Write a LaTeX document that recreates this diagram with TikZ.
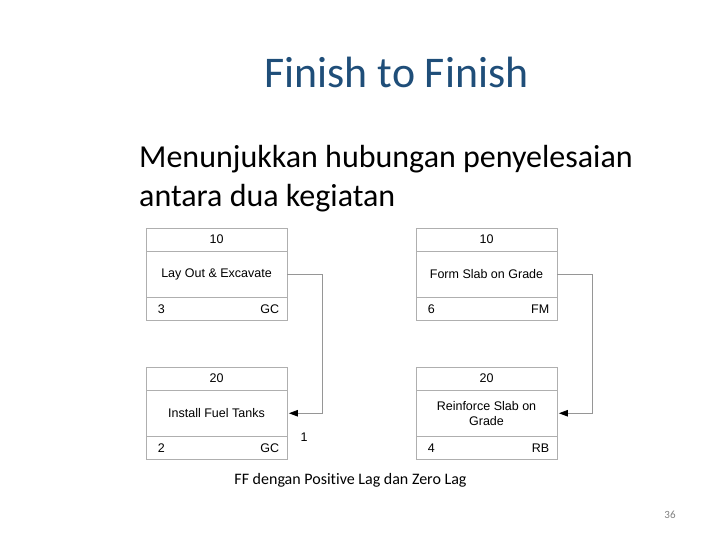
\documentclass[tikz,border=0pt]{standalone}
\usepackage{fontspec}
\setmainfont{Carlito}[Ligatures=CommonOff]
\newfontfamily\arialf{Liberation Sans}
\usetikzlibrary{arrows.meta}
\definecolor{titleblue}{RGB}{31,78,121}
\definecolor{boxgray}{RGB}{175,175,175}
\definecolor{linegray}{RGB}{150,150,150}
\begin{document}
\begin{tikzpicture}[x=1pt,y=-1pt,
  cell/.style={draw=boxgray, line width=0.8pt, minimum width=141pt, inner sep=0pt,
    font=\arialf\fontsize{12.5}{15}\selectfont, align=center},
  rowtop/.style={cell, minimum height=23pt},
  rowmid/.style={cell, minimum height=46.5pt},
  rowbot/.style={cell, minimum height=23pt},
  celltext/.style={inner sep=0pt, font=\arialf\fontsize{12.5}{15}\selectfont},
  conn/.style={draw=linegray, line width=0.8pt, shorten >=1.5pt,
    -{Triangle[length=9pt,width=6.5pt,color=black,fill=black]}}]
\useasboundingbox (0,0) rectangle (720,540);

% title and text
\node[text=titleblue, font=\fontsize{43.8}{52}\selectfont, inner sep=0pt] (title) at (396.5,72) {Finish to Finish};
\node[anchor=west, align=left, font=\fontsize{32}{39.5}\selectfont, inner sep=0pt] (body) at (139,178.5)
  {Menunjukkan hubungan penyelesaian\\antara dua kegiatan};

% box 1
\node[rowtop] (b1t) at (216.5,239.5) {10};
\node[rowmid] (b1m) at (216.5,274.25) {Lay Out \& Excavate};
\node[rowbot] (b1b) at (216.5,309) {};
\node[celltext, anchor=west] (b1l) at ([xshift=12pt]b1b.west) {3};
\node[celltext, anchor=east] (b1r) at ([xshift=-8pt]b1b.east) {GC};

% box 2
\node[rowtop] (b2t) at (216.5,378.5) {20};
\node[rowmid] (b2m) at (216.5,413.25) {Install Fuel Tanks};
\node[rowbot] (b2b) at (216.5,448) {};
\node[celltext, anchor=west] (b2l) at ([xshift=12pt]b2b.west) {2};
\node[celltext, anchor=east] (b2r) at ([xshift=-8pt]b2b.east) {GC};

% box 3
\node[rowtop] (b3t) at (486.5,239.5) {10};
\node[rowmid] (b3m) at (486.5,274.25) {Form Slab on Grade};
\node[rowbot] (b3b) at (486.5,309) {};
\node[celltext, anchor=west] (b3l) at ([xshift=12pt]b3b.west) {6};
\node[celltext, anchor=east] (b3r) at ([xshift=-8pt]b3b.east) {FM};

% box 4
\node[rowtop] (b4t) at (486.5,378.5) {20};
\node[rowmid] (b4m) at (486.5,413.25) {Reinforce Slab on\\Grade};
\node[rowbot] (b4b) at (486.5,448) {};
\node[celltext, anchor=west] (b4l) at ([xshift=12pt]b4b.west) {4};
\node[celltext, anchor=east] (b4r) at ([xshift=-8pt]b4b.east) {RB};

% connectors
\coordinate (c1) at (322,274.25);
\coordinate (c2) at (592,274.25);
\draw[conn] (b1m.east) -- (c1) |- (b2m.east);
\draw[conn] (b3m.east) -- (c2) |- (b4m.east);
\node[celltext] (lag) at (304,437) {1};

% caption and page number
\node[font=\fontsize{16}{19}\selectfont, inner sep=0pt] (cap) at (350.5,480) {FF dengan Positive Lag dan Zero Lag};
\node[text=gray, font=\fontsize{11}{13}\selectfont, inner sep=0pt] (pg) at (670,515) {36};
\end{tikzpicture}
\end{document}
